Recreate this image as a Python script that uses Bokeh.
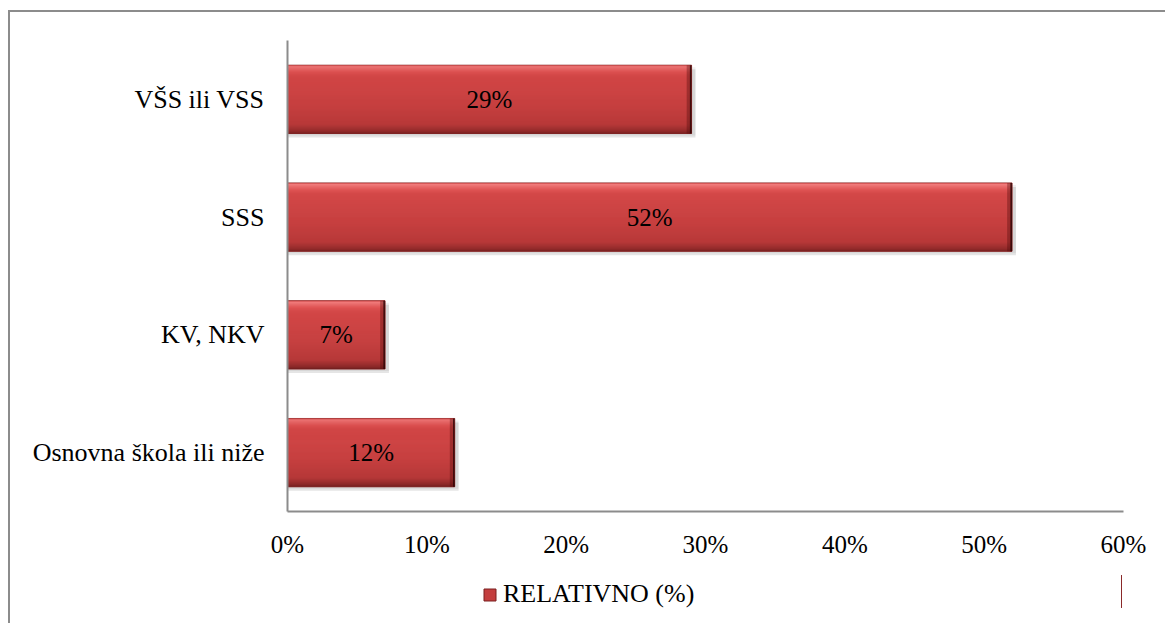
from bokeh.plotting import figure
from bokeh.models import (ColumnDataSource, FactorRange, NumeralTickFormatter, FixedTicker,
                          Legend, LegendItem, Range1d)
from bokeh.layouts import column
from bokeh.transform import dodge
from bokeh.core.properties import value
from bokeh.embed import file_html
from bokeh.resources import INLINE

# ---- data ----
categories = ["Osnovna škola ili niže", "KV, NKV", "SSS", "VŠS ili VSS"]
values = [0.12, 0.07, 0.52, 0.29]
bar_labels = ["12%", "7%", "52%", "29%"]
x_ticks = [0.0, 0.1, 0.2, 0.3, 0.4, 0.5, 0.6]
series_name = "RELATIVNO (%)"

FONT = "Liberation Serif"
BORDER = "2px solid #8c8c8c"

src = ColumnDataSource(data=dict(
    cat=categories,
    val=values,
    mid=[v / 2 for v in values],
    edge=[v - 0.0035 for v in values],
    shadow_r=[v + 0.0028 for v in values],
    lab=bar_labels,
))

p = figure(frame_width=834, frame_height=469, output_backend="svg", toolbar_location=None,
           y_range=FactorRange(factors=categories), x_range=Range1d(0, 0.6),
           min_border_left=277, min_border_right=44, min_border_top=28, min_border_bottom=50)
p.styles = {"border-top": BORDER, "border-left": BORDER,
            "margin-left": "8px", "margin-top": "10px"}
p.outline_line_color = None
p.xgrid.visible = False
p.ygrid.visible = False
p.background_fill_color = "white"
p.border_fill_color = "white"

PX = 1.0 / 117.25
BAR_PX = 68.0
H = BAR_PX * PX


def band(a, b, color, left=0, right="val", alpha=1.0):
    off = H / 2 - (a + b) / 2 * PX
    return p.hbar(y=dodge("cat", off, range=p.y_range), left=left, right=right,
                  height=(b - a) * PX, source=src, fill_color=color, line_color=None,
                  fill_alpha=alpha)


# shadow
p.hbar(y=dodge("cat", -4 * PX, range=p.y_range), left=0, right="shadow_r", height=H,
       source=src, fill_color="#000000", fill_alpha=0.10, line_color=None)
p.hbar(y=dodge("cat", -2 * PX, range=p.y_range), left=0, right="shadow_r", height=H,
       source=src, fill_color="#000000", fill_alpha=0.06, line_color=None)

p.hbar(y="cat", left=0, right="val", height=H, source=src,
       fill_color="#C43F3F", line_color="#8A2828", line_width=1)


def hex2rgb(h):
    h = h.lstrip("#")
    return tuple(int(h[i:i + 2], 16) for i in (0, 2, 4))


stops = [(0, "#C94444"), (1.5, "#F07A7A"), (7, "#DE5252"), (11, "#D34747"),
         (40, "#C64040"), (59, "#B63838"), (62, "#A33131"), (66, "#8A2828"), (68, "#6E1D1D")]


def color_at(y):
    for (y0, c0), (y1, c1) in zip(stops[:-1], stops[1:]):
        if y0 <= y <= y1:
            t = 0 if y1 == y0 else (y - y0) / (y1 - y0)
            r0, g0, b0 = hex2rgb(c0)
            r1, g1, b1 = hex2rgb(c1)
            return "#%02x%02x%02x" % (round(r0 + (r1 - r0) * t), round(g0 + (g1 - g0) * t),
                                       round(b0 + (b1 - b0) * t))
    return stops[-1][1]


step = 1.0
yy = 0.0
while yy < BAR_PX - 1e-9:
    band(yy, min(yy + step + 0.3, BAR_PX), color_at(yy + step / 2))
    yy += step

# right edge darkening
p.hbar(y="cat", left="edge", right="val", height=H, source=src,
       fill_color="#4a0a0a", fill_alpha=0.35, line_color=None)
p.hbar(y="cat", left=dodge("val", -0.0012), right="val", height=H, source=src,
       fill_color="#2a0505", fill_alpha=0.8, line_color=None)

p.text(x="mid", y="cat", text="lab", source=src, text_align="center", text_baseline="middle",
       text_font=value(FONT), text_font_size="25px", text_color="black")

# axes
xa = p.xaxis[0]
xa.ticker = FixedTicker(ticks=x_ticks)
xa.formatter = NumeralTickFormatter(format="0%")
xa.axis_line_color = "#8c8c8c"
xa.axis_line_width = 2
xa.major_tick_line_color = None
xa.minor_tick_line_color = None
xa.major_tick_out = 0
xa.minor_tick_out = 0
xa.major_label_text_font = FONT
xa.major_label_text_font_size = "25px"
xa.major_label_text_color = "black"
xa.major_label_standoff = 19

ya = p.yaxis[0]
ya.axis_line_color = "#8c8c8c"
ya.axis_line_width = 2
ya.major_tick_line_color = None
ya.minor_tick_line_color = None
ya.major_tick_out = 0
ya.minor_tick_out = 0
ya.major_label_text_font = FONT
ya.major_label_text_font_size = "26px"
ya.major_label_text_color = "black"
ya.major_label_standoff = 23

# ---- legend strip below the chart ----
pl = figure(width=1155, height=64, output_backend="svg", toolbar_location=None,
            x_range=Range1d(-11, -10), y_range=Range1d(0, 1),
            x_axis_type=None, y_axis_type=None, min_border=0)
pl.styles = {"border-left": BORDER, "margin-left": "8px"}
pl.outline_line_color = None
pl.xgrid.visible = False
pl.ygrid.visible = False
pl.background_fill_color = "white"
pl.border_fill_color = "white"
# same series, far outside this strip's visible range: only its legend swatch shows
legend_r = pl.hbar(y=0.5, left=0, right="val", height=0.5, source=src,
                   fill_color="#C43F3F", line_color="#7A2020", line_width=1)
legend = Legend(items=[LegendItem(label=series_name, renderers=[legend_r])],
                location=(195, 14), orientation="horizontal",
                glyph_width=15, glyph_height=15, label_standoff=6, padding=5, margin=0,
                label_text_font=FONT, label_text_font_size="26px", label_text_color="black",
                background_fill_alpha=0, border_line_color=None)
pl.add_layout(legend, "center")

layout = column(p, pl, spacing=0)
open("out.html", "w").write(file_html(layout, INLINE))
